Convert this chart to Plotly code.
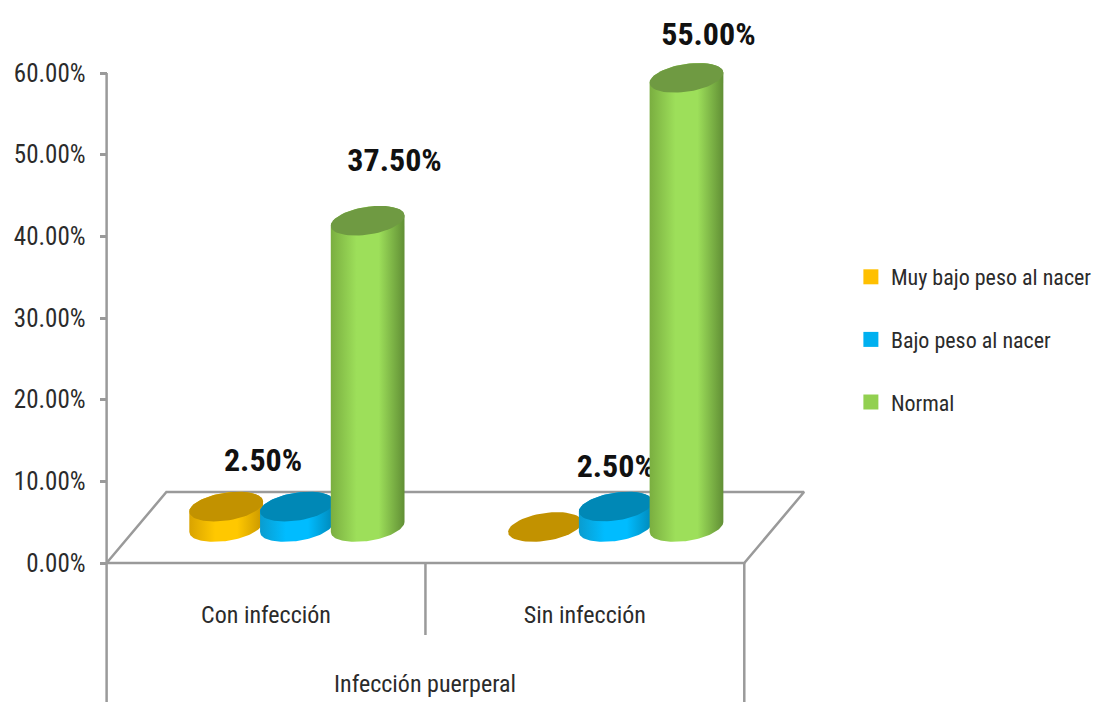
import numpy as np
import plotly.graph_objects as go

# Data
categories = ["Con infección", "Sin infección"]
series_names = ["Muy bajo peso al nacer", "Bajo peso al nacer", "Normal"]
muy_bajo = [2.5, 0.0]
bajo = [2.5, 2.5]
normal = [37.5, 55.0]
y_ticks = [0, 10, 20, 30, 40, 50, 60]
y_tick_labels = ["0.00%", "10.00%", "20.00%", "30.00%", "40.00%", "50.00%", "60.00%"]

# Which bars carry a value label, and how far the label sits from the cylinder top (px)
label_offsets = {
    (0, 0): (37, 44),
    (1, 1): (0, 38),
    (2, 0): (27, 58),
    (2, 1): (22, 41),
}

# Plot frame in pixels; the axes span the whole canvas so nothing gets clipped
W, H = 1097, 702
LEFT, RIGHT, TOP, BOTTOM = 107, 747, 73, 563
PX_X = (RIGHT - LEFT) / 2          # px per category
PX_Y = (BOTTOM - TOP) / 60         # px per percentage point

FLOOR_DX, FLOOR_DY = 60 / PX_X, 71 / PX_Y     # depth of the floor
BAR_A, BAR_B, BAR_K = 37 / PX_X, 14 / PX_Y, 5 / PX_Y  # ellipse half-width, half-height, tilt
BASE_DX, BASE_DY = 31 / PX_X, 36 / PX_Y       # bar base position on the floor
BAR_STEP = 71 / PX_X

FRAME = "#9a9a9a"
TEXT = "#2b2b2b"
FONT = "Roboto Condensed, DejaVu Sans Condensed, Liberation Sans Narrow, Roboto, sans-serif"

palette = [
    dict(swatch="#ffc000", top="#c29200", edge=("#d9a300", "#c99700"), mid="#ffc800"),
    dict(swatch="#00b0f0", top="#0088b6", edge=("#0a9ccf", "#0088b8"), mid="#00bcff"),
    dict(swatch="#92d050", top="#6f9a42", edge=("#7aae40", "#618f35"), mid="#9ddf5a"),
]


def ellipse(cx, cy, start, stop, n=60):
    t = np.linspace(start, stop, n)
    return cx + BAR_A * np.cos(t), cy + BAR_B * np.sin(t) + BAR_K * np.cos(t)


fig = go.Figure()

# Chart floor, value axis line and multi-level category frame
low = -(H - BOTTOM) / PX_Y
fx = [0, FLOOR_DX, 2 + FLOOR_DX, 2, 0, None,
      0, 0, None, 1, 1, None, 2, 2]
fy = [0, FLOOR_DY, FLOOR_DY, 0, 0, None,
      60, low, None, 0, -72 / PX_Y, None, 0, low]
fig.add_trace(go.Scatter(x=fx, y=fy, mode="lines", line=dict(color=FRAME, width=2.5),
                         showlegend=False, hoverinfo="skip"))

values_by_series = [muy_bajo, bajo, normal]
for s, values in enumerate(values_by_series):
    colors = palette[s]
    for c, value in enumerate(values):
        cx = c + 0.5 + BASE_DX + (s - 1) * BAR_STEP
        top = BASE_DY + value
        if value > 0:
            lx, ly = ellipse(cx, BASE_DY, np.pi, 2 * np.pi)
            ux, uy = ellipse(cx, top, 0, np.pi)
            fig.add_trace(go.Scatter(
                x=np.concatenate([lx, ux]), y=np.concatenate([ly, uy]),
                mode="lines", line=dict(width=0), fill="toself",
                fillgradient=dict(type="horizontal", colorscale=[
                    [0, colors["edge"][0]], [0.35, colors["mid"]], [0.65, colors["mid"]],
                    [1, colors["edge"][1]]]),
                showlegend=False, hoverinfo="skip"))
        tx, ty = ellipse(cx, top, 0, 2 * np.pi)
        fig.add_trace(go.Scatter(x=tx, y=ty, mode="lines", line=dict(width=0), fill="toself",
                                 fillcolor=colors["top"], showlegend=False, hoverinfo="skip"))
    # Labels go in after the series' own bars, so taller bars drawn later can cover them
    for c, value in enumerate(values):
        if (s, c) in label_offsets:
            ox, oy = label_offsets[(s, c)]
            fig.add_trace(go.Scatter(
                x=[c + 0.5 + BASE_DX + (s - 1) * BAR_STEP + ox / PX_X],
                y=[BASE_DY + value + oy / PX_Y],
                mode="text", text=[f"<b>{value:.2f}%</b>"], textposition="middle center",
                textfont=dict(family=FONT, size=32, color="#111111"),
                showlegend=False, hoverinfo="skip"))

# Legend entries
for name, colors in zip(series_names, palette):
    fig.add_trace(go.Scatter(x=[None], y=[None], mode="markers", name=name, legendgroup=name,
                             marker=dict(symbol="square", size=15, color=colors["swatch"])))

fig.update_layout(
    width=W, height=H,
    margin=dict(l=0, r=0, t=0, b=0, pad=0),
    paper_bgcolor="white", plot_bgcolor="rgba(0,0,0,0)",
    font=dict(family=FONT, color=TEXT, size=24),
    legend=dict(x=854 / W, y=1 - 256 / H, xanchor="left", yanchor="top", tracegroupgap=31,
                entrywidth=170, entrywidthmode="pixels",
                font=dict(family=FONT, size=22, color=TEXT), bgcolor="rgba(0,0,0,0)"),
    xaxis=dict(range=[-LEFT / PX_X, (W - LEFT) / PX_X], anchor="free", position=(H - BOTTOM) / H,
               tickmode="array", tickvals=[0.5, 1.5], ticktext=categories,
               ticks="", showgrid=False, zeroline=False, showline=False,
               ticklabelstandoff=35, tickfont=dict(family=FONT, size=24, color=TEXT)),
    yaxis=dict(range=[low, BOTTOM / PX_Y], anchor="free", position=LEFT / W,
               tickmode="array", tickvals=y_ticks, ticktext=y_tick_labels,
               ticks="outside", ticklen=7, tickwidth=2.5, tickcolor=FRAME,
               showgrid=False, zeroline=False, showline=False, ticklabelstandoff=9,
               tickfont=dict(family=FONT, size=25, color=TEXT)),
    annotations=[dict(x=1, y=low + 18 / PX_Y, xref="x", yref="y", showarrow=False,
                      text="Infección puerperal",
                      font=dict(family=FONT, size=24, color=TEXT))],
)

fig.write_html("out.html")
